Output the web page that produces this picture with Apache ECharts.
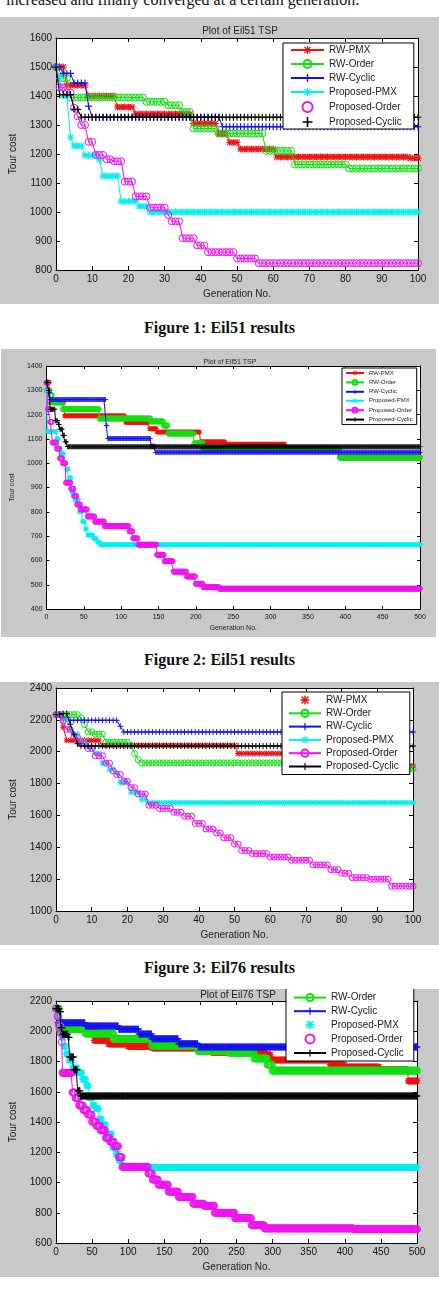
<!DOCTYPE html>
<html>
<head>
<meta charset="utf-8">
<script src="https://cdn.jsdelivr.net/npm/echarts@6/dist/echarts.min.js"></script>
<style>
  body { margin: 0; background: #fff; }
  #page { position: relative; width: 439px; height: 1314px; overflow: hidden; }
  .panel { position: absolute; background: #c8c8c8; }
  .caption { position: absolute; left: 0; width: 439px; text-align: center; font: bold 16px "Liberation Serif", serif; line-height: 18px; color: #111; }
  .lead { position: absolute; left: 6px; top: -8px; font: 16px "Liberation Serif", serif; line-height: 16px; color: #111; white-space: nowrap; }
</style>
</head>
<body>
<div id="page">
  <div class="lead">increased and finally converged at a certain generation.</div>
  <div class="panel" id="fig1" style="left:0;top:17px;width:439px;height:287px"></div>
  <div class="caption" style="top:319px">Figure 1: Eil51 results</div>
  <div class="panel" id="fig2" style="left:1px;top:349px;width:435px;height:288px"></div>
  <div class="caption" style="top:651px">Figure 2: Eil51 results</div>
  <div class="panel" id="fig3" style="left:0;top:682px;width:439px;height:263px"></div>
  <div class="caption" style="top:959px">Figure 3: Eil76 results</div>
  <div class="panel" id="fig4" style="left:0;top:989px;width:439px;height:288px"></div>
</div>
<script>
// series names (same in all four plots)
const names = ['RW-PMX', 'RW-Order', 'RW-Cyclic', 'Proposed-PMX', 'Proposed-Order', 'Proposed-Cyclic'];

// best tour cost per generation, given as [generation, cost] at each change
// Figure 1 - Eil51, 100 generations
const f1PMX = [[0,1500],[2,1500],[3,1437],[9,1400],[17,1362],[22,1338],[38,1305],[45,1270],[48,1240],[51,1217],[61,1190],[98,1186]];
const f1Order = [[0,1500],[1,1485],[2,1462],[4,1395],[25,1380],[31,1368],[35,1345],[38,1288],[45,1271],[58,1211],[66,1164],[81,1150]];
const f1Cyclic = [[0,1500],[2,1478],[5,1445],[9,1365],[10,1327],[46,1294]];
const f1PPMX = [[0,1500],[1,1460],[2,1400],[4,1258],[5,1228],[8,1195],[12,1180],[13,1124],[18,1037],[23,1020],[26,1000]];
const f1POrder = [[0,1500],[1,1430],[3,1412],[5,1360],[6,1330],[7,1300],[9,1242],[11,1197],[14,1182],[16,1175],[19,1105],[22,1054],[26,1015],[31,990],[32,968],[35,910],[39,885],[42,862],[50,840],[56,824]];
const f1PCyclic = [[0,1500],[1,1405],[5,1354],[7,1327]];

// Figure 2 - Eil51, 500 generations
const f2PMX = [[0,1333],[5,1250],[24,1195],[106,1168],[138,1142],[148,1128],[206,1088],[240,1078],[320,1062],[392,1026]];
const f2Order = [[0,1300],[5,1280],[8,1250],[22,1222],[71,1184],[140,1172],[157,1155],[163,1122],[198,1082],[210,1060],[393,1022]];
const f2Cyclic = [[0,1333],[3,1290],[5,1262],[80,1155],[82,1102],[140,1070],[146,1045]];
const f2PPMX = [[0,1300],[1,1130],[14,1100],[17,1060],[20,1040],[24,1000],[27,975],[30,940],[34,880],[38,850],[44,800],[48,760],[52,730],[55,705],[63,690],[68,675],[72,665]];
const f2POrder = [[0,1330],[2,1222],[5,1170],[8,1085],[14,1060],[18,1020],[22,1000],[26,920],[33,895],[37,865],[41,830],[46,810],[55,781],[65,760],[78,741],[111,720],[116,691],[123,665],[148,623],[158,597],[170,554],[188,534],[200,504],[210,490],[232,484]];
const f2PCyclic = [[0,1333],[3,1300],[5,1222],[12,1175],[16,1160],[18,1140],[22,1115],[25,1088],[28,1068]];

// Figure 3 - Eil76, 100 generations
const f3PMX = [[0,2233],[2,2154],[3,2072],[13,2040],[51,1989],[80,1950],[93,1912]];
const f3Order = [[0,2233],[7,2213],[8,2170],[9,2125],[11,2110],[14,2060],[21,2040],[22,1989],[23,1950],[24,1930],[85,1893]];
const f3Cyclic = [[0,2233],[2,2215],[4,2197],[18,2160],[19,2124]];
const f3PPMX = [[0,2233],[2,2200],[4,2140],[5,2111],[7,2062],[9,2030],[11,1990],[13,1930],[15,1890],[17,1867],[18,1806],[21,1745],[24,1700],[26,1680]];
const f3POrder = [[0,2233],[2,2193],[3,2140],[5,2091],[7,2050],[9,2020],[11,1975],[14,1928],[16,1880],[17,1857],[19,1815],[21,1775],[23,1735],[26,1664],[29,1644],[33,1620],[36,1595],[39,1550],[42,1515],[45,1490],[47,1460],[50,1420],[52,1380],[55,1361],[60,1339],[66,1319],[72,1290],[77,1260],[80,1237],[83,1210],[88,1200],[94,1156]];
const f3PCyclic = [[0,2233],[2,2240],[4,2172],[5,2111],[6,2050],[7,2036]];

// Figure 4 - Eil76, 500 generations
const f4PMX = [[0,2150],[4,2080],[5,2014],[53,1940],[73,1915],[100,1900],[134,1890],[215,1862],[290,1845],[298,1810],[380,1778],[400,1763],[448,1745],[488,1671]];
const f4Order = [[0,2150],[5,2014],[41,1985],[80,1950],[133,1905],[197,1870],[240,1858],[275,1820],[293,1780],[300,1740]];
const f4Cyclic = [[0,2150],[3,2057],[41,2035],[87,2014],[115,1982],[133,1950],[170,1917],[197,1896]];
const f4PPMX = [[0,2150],[3,2100],[5,2030],[8,1960],[11,1900],[14,1850],[18,1810],[23,1757],[30,1725],[37,1682],[42,1640],[46,1560],[51,1510],[55,1489],[60,1420],[64,1382],[70,1320],[78,1232],[83,1190],[87,1146],[92,1100]];
const f4POrder = [[0,2150],[2,2100],[4,2040],[6,1990],[8,1930],[9,1725],[23,1596],[27,1560],[32,1510],[38,1480],[44,1450],[50,1403],[56,1375],[62,1345],[69,1296],[75,1270],[81,1240],[87,1168],[92,1104],[128,1060],[134,1020],[142,986],[156,940],[170,905],[190,860],[205,847],[220,800],[248,765],[271,718],[289,697],[413,692]];
const f4PCyclic = [[0,2150],[5,2130],[7,2024],[9,1980],[17,1960],[19,1830],[25,1746],[30,1607],[34,1572]];

const colors = ['#f01010', '#10e010', '#1010f0', '#00f0f0', '#f010f0', '#000000'];
const font = '"Liberation Sans", Arial, sans-serif';

// matlab-like markers: * o + * o +
const PLUS = 'path://M4.2,0H5.8V4.2H10V5.8H5.8V10H4.2V5.8H0V4.2H4.2Z';
const STAR = 'path://M4.2,0L5.8,0L5.8,10L4.2,10Z M0,4.2L10,4.2L10,5.8L0,5.8Z M1.7,0.6L9.4,8.3L8.3,9.4L0.6,1.7Z M8.3,0.6L9.4,1.7L1.7,9.4L0.6,8.3Z';
const markers = [STAR, 'circle', PLUS, STAR, 'circle', PLUS];

// every generation keeps the best cost found so far
function perGeneration(points, last) {
  const out = [];
  let k = 0;
  for (let g = 0; g <= last; g++) {
    while (k + 1 < points.length && points[k + 1][0] <= g) k++;
    out.push([g, points[k][1]]);
  }
  return out;
}

function makeChart(id, c) {
  const chart = echarts.init(document.getElementById(id), null, { renderer: 'canvas' });
  const axisLine = { show: true, onZero: false, lineStyle: { color: '#000', width: 1 } };
  const tick = { show: true, inside: true, length: c.tickLen, lineStyle: { color: '#000' } };
  const label = { color: '#111', fontSize: c.fontSize, fontFamily: font, margin: 4, formatter: v => String(v) };
  const series = c.data.map((pts, i) => {
    const hollow = markers[i] === 'circle';
    return {
      name: names[i],
      type: 'line',
      data: perGeneration(pts, c.xMax),
      symbol: markers[i],
      symbolSize: c.symbolSize,
      showAllSymbol: true,
      lineStyle: { color: colors[i], width: 1 },
      itemStyle: hollow ? { color: 'rgba(0,0,0,0)', borderColor: colors[i], borderWidth: 1 }
                        : { color: colors[i], borderWidth: 0 },
      emphasis: { disabled: true },
      animation: false,
      z: 2 + i * 0.01
    };
  });
  const legendData = names.map(n => c.legendIcons[n] ? { name: n, icon: c.legendIcons[n] } : { name: n });
  const option = {
    animation: false,
    title: c.title ? {
      text: c.title, left: c.titleX, top: c.titleY, textAlign: 'center',
      textStyle: { fontSize: c.titleSize, fontWeight: 'normal', color: '#222', fontFamily: font }
    } : undefined,
    grid: Object.assign({ show: true, backgroundColor: '#fff', borderWidth: 0 }, c.grid),
    legend: Object.assign({
      orient: 'vertical', backgroundColor: '#fff', borderColor: '#000', borderWidth: 1,
      selectedMode: false, data: legendData,
      textStyle: { fontSize: c.legendFont, fontFamily: font, color: '#222' }
    }, c.legend),
    xAxis: [
      { type: 'value', min: 0, max: c.xMax, interval: c.xInterval, position: 'bottom',
        name: 'Generation No.', nameLocation: 'middle', nameGap: c.xNameGap,
        nameTextStyle: { fontSize: c.fontSize, fontFamily: font, color: '#222' },
        axisLine, axisTick: tick, axisLabel: label, splitLine: { show: false } },
      { type: 'value', min: 0, max: c.xMax, interval: c.xInterval, position: 'top',
        axisLine, axisTick: tick, axisLabel: { show: false }, splitLine: { show: false } }
    ],
    yAxis: [
      { type: 'value', min: c.yMin, max: c.yMax, interval: c.yInterval, position: 'left',
        name: 'Tour cost', nameLocation: 'middle', nameGap: c.yNameGap,
        nameTextStyle: { fontSize: c.fontSize, fontFamily: font, color: '#222' },
        axisLine, axisTick: tick, axisLabel: label, splitLine: { show: false } },
      { type: 'value', min: c.yMin, max: c.yMax, interval: c.yInterval, position: 'right',
        axisLine, axisTick: tick, axisLabel: { show: false }, splitLine: { show: false } }
    ],
    series
  };
  chart.setOption(option);
  return chart;
}

makeChart('fig1', {
  data: [f1PMX, f1Order, f1Cyclic, f1PPMX, f1POrder, f1PCyclic],
  xMax: 100, xInterval: 10, yMin: 800, yMax: 1600, yInterval: 100,
  grid: { left: 53, right: 21, top: 21, bottom: 24 },
  fontSize: 10, tickLen: 4, symbolSize: 7, xNameGap: 16, yNameGap: 38,
  title: 'Plot of Eil51 TSP', titleX: 235, titleY: 4, titleSize: 10,
  legendFont: 10,
  legend: { left: 283, top: 26, itemWidth: 33, itemHeight: 10, itemGap: 4, padding: [2, 12, 2, 7] },
  legendIcons: { 'Proposed-Order': 'circle', 'Proposed-Cyclic': PLUS }
});

makeChart('fig2', {
  data: [f2PMX, f2Order, f2Cyclic, f2PPMX, f2POrder, f2PCyclic],
  xMax: 500, xInterval: 50, yMin: 400, yMax: 1400, yInterval: 100,
  grid: { left: 30, right: 16, top: 17, bottom: 22 },
  fontSize: 7, tickLen: 3, symbolSize: 5, xNameGap: 11, yNameGap: 22,
  title: 'Plot of Eil51 TSP', titleX: 224, titleY: 5, titleSize: 7,
  legendFont: 6,
  legend: { left: 341, top: 19, itemWidth: 18, itemHeight: 6, itemGap: 3, padding: [2, 4, 2, 3] },
  legendIcons: {}
});

makeChart('fig3', {
  data: [f3PMX, f3Order, f3Cyclic, f3PPMX, f3POrder, f3PCyclic],
  xMax: 100, xInterval: 10, yMin: 1000, yMax: 2400, yInterval: 200,
  grid: { left: 54, right: 26, top: 6, bottom: 28 },
  fontSize: 10, tickLen: 4, symbolSize: 6, xNameGap: 16, yNameGap: 38,
  title: null,
  legendFont: 10,
  legend: { left: 282, top: 10, itemWidth: 32, itemHeight: 9, itemGap: 3.3, padding: [3, 11, 3, 6] },
  legendIcons: { 'RW-PMX': STAR }
});

makeChart('fig4', {
  data: [f4PMX, f4Order, f4Cyclic, f4PPMX, f4POrder, f4PCyclic],
  xMax: 500, xInterval: 50, yMin: 600, yMax: 2200, yInterval: 200,
  grid: { left: 53, right: 22, top: 12, bottom: 27 },
  fontSize: 10, tickLen: 4, symbolSize: 7, xNameGap: 16, yNameGap: 38,
  title: 'Plot of Eil76 TSP', titleX: 233, titleY: -4, titleSize: 10,
  legendFont: 10,
  legend: { left: 286, top: -13, itemWidth: 32, itemHeight: 9, itemGap: 3.6, padding: [3, 10, 3, 7] },
  legendIcons: { 'Proposed-PMX': STAR, 'Proposed-Order': 'circle' }
});
</script>
</body>
</html>
